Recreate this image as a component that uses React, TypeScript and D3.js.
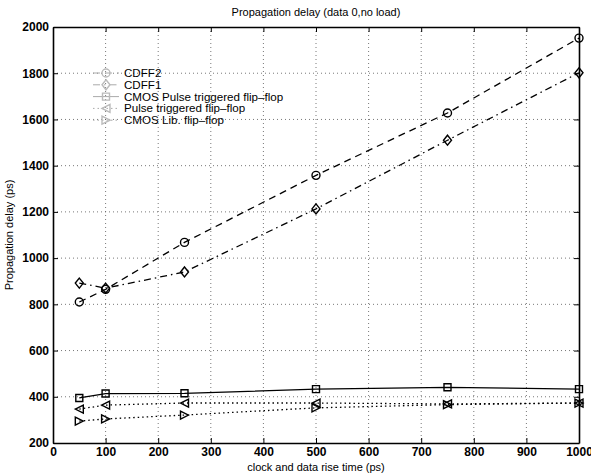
import React, { useEffect, useRef } from 'react';
import * as d3 from 'd3';

const riseTimes = [50, 100, 250, 500, 750, 1000];
const cdff2 = [810, 865, 1068, 1358, 1628, 1952];
const cdff1 = [892, 870, 940, 1213, 1510, 1802];
const cmosPulse = [395, 414, 415, 433, 441, 433];
const pulseTrig = [347, 364, 373, 373, 369, 373];
const cmosLib = [295, 304, 321, 352, 366, 373];

const xTicks = [0, 100, 200, 300, 400, 500, 600, 700, 800, 900, 1000];
const yTicks = [200, 400, 600, 800, 1000, 1200, 1400, 1600, 1800, 2000];

const seriesNames = [
  'CDFF2',
  'CDFF1',
  'CMOS Pulse triggered flip\u2013flop',
  'Pulse triggered flip\u2013flop',
  'CMOS Lib. flip\u2013flop',
];

const App = () => {
  const svgRef = useRef<SVGSVGElement>(null);

  useEffect(() => {
    const width = 591;
    const height = 474;
    const margin = { top: 27, right: 12, bottom: 31, left: 53 };
    const innerWidth = width - margin.left - margin.right;
    const innerHeight = height - margin.top - margin.bottom;
    const font = 'Liberation Sans, Arial, sans-serif';

    const svg = d3.select(svgRef.current);
    svg.selectAll('*').remove();
    svg.attr('width', width).attr('height', height);
    svg.append('rect').attr('width', width).attr('height', height).attr('fill', '#fff');

    const g = svg.append('g').attr('transform', `translate(${margin.left},${margin.top})`);

    const x = d3.scaleLinear().domain([0, 1000]).range([0, innerWidth]);
    const y = d3.scaleLinear().domain([200, 2000]).range([innerHeight, 0]);

    // grid
    g.selectAll('.gx')
      .data(xTicks.slice(1, -1))
      .enter()
      .append('line')
      .attr('x1', (d) => x(d))
      .attr('x2', (d) => x(d))
      .attr('y1', 0)
      .attr('y2', innerHeight)
      .attr('stroke', '#555')
      .attr('stroke-width', 0.8)
      .attr('stroke-dasharray', '1,3');
    g.selectAll('.gy')
      .data(yTicks.slice(1, -1))
      .enter()
      .append('line')
      .attr('x1', 0)
      .attr('x2', innerWidth)
      .attr('y1', (d) => y(d))
      .attr('y2', (d) => y(d))
      .attr('stroke', '#555')
      .attr('stroke-width', 0.8)
      .attr('stroke-dasharray', '1,3');

    const fmt = d3.format('d');

    // axes
    const xAxis = g
      .append('g')
      .attr('transform', `translate(0,${innerHeight})`)
      .call(d3.axisBottom(x).tickValues(xTicks).tickFormat(fmt as any).tickSizeInner(-5).tickSizeOuter(0).tickPadding(4));
    const yAxis = g
      .append('g')
      .call(d3.axisLeft(y).tickValues(yTicks).tickFormat(fmt as any).tickSizeInner(-5).tickSizeOuter(0).tickPadding(4));
    g.append('g')
      .call(d3.axisTop(x).tickValues(xTicks).tickSizeInner(-5).tickSizeOuter(0).tickFormat(() => ''));
    g.append('g')
      .attr('transform', `translate(${innerWidth},0)`)
      .call(d3.axisRight(y).tickValues(yTicks).tickSizeInner(-5).tickSizeOuter(0).tickFormat(() => ''));
    [xAxis, yAxis].forEach((a) =>
      a.selectAll('text').attr('font-family', font).attr('font-size', 12).attr('font-weight', 'bold').attr('fill', '#000')
    );
    g.selectAll('.domain').attr('stroke', '#000').attr('stroke-width', 1.6);
    g.selectAll('.tick line').attr('stroke', '#000');

    const line = d3
      .line<number>()
      .x((_, i) => x(riseTimes[i]))
      .y((d) => y(d));

    const series = [
      { values: cdff2, dash: '7,5', marker: 'circle' },
      { values: cdff1, dash: '7,4,1.5,4', marker: 'diamond' },
      { values: cmosPulse, dash: null, marker: 'square' },
      { values: pulseTrig, dash: '1.5,3', marker: 'left' },
      { values: cmosLib, dash: '1.5,3', marker: 'right' },
    ];

    const drawMarker = (sel: any, kind: string, cx: number, cy: number, stroke = '#000') => {
      const s = 4;
      let p = '';
      if (kind === 'circle') {
        sel.append('circle').attr('cx', cx).attr('cy', cy).attr('r', s).attr('fill', 'none').attr('stroke', stroke).attr('stroke-width', 1.4);
        return;
      }
      if (kind === 'diamond') p = `M${cx},${cy - s - 1}L${cx + s},${cy}L${cx},${cy + s + 1}L${cx - s},${cy}Z`;
      if (kind === 'square') p = `M${cx - 3.5},${cy - 3.5}h7v7h-7Z`;
      if (kind === 'left') p = `M${cx - s},${cy}L${cx + s},${cy - s}L${cx + s},${cy + s}Z`;
      if (kind === 'right') p = `M${cx + s},${cy}L${cx - s},${cy - s}L${cx - s},${cy + s}Z`;
      sel.append('path').attr('d', p).attr('fill', 'none').attr('stroke', stroke).attr('stroke-width', 1.4);
    };

    series.forEach((s) => {
      g.append('path')
        .attr('d', line(s.values))
        .attr('fill', 'none')
        .attr('stroke', '#000')
        .attr('stroke-width', 1.3)
        .attr('stroke-dasharray', s.dash ?? null);
      s.values.forEach((v, i) => drawMarker(g, s.marker, x(riseTimes[i]), y(v)));
    });

    // legend
    const lg = svg.append('g').attr('transform', 'translate(93,73)');
    seriesNames.forEach((name, i) => {
      const yy = i * 11.8;
      lg.append('line')
        .attr('x1', 0)
        .attr('x2', 26)
        .attr('y1', yy)
        .attr('y2', yy)
        .attr('stroke', '#aaa')
        .attr('stroke-width', 1)
        .attr('stroke-dasharray', series[i].dash ?? null);
      drawMarker(lg, series[i].marker, 13, yy, '#bbb');
      lg.append('text')
        .attr('x', 31)
        .attr('y', yy + 4)
        .attr('font-family', font)
        .attr('font-size', 11.6)
        .attr('fill', '#000')
        .text(name);
    });

    svg.append('text')
      .attr('x', margin.left + innerWidth / 2)
      .attr('y', 16)
      .attr('text-anchor', 'middle')
      .attr('font-family', font)
      .attr('font-size', 11)
      .text('Propagation delay (data 0,no load)');

    svg.append('text')
      .attr('x', margin.left + innerWidth / 2)
      .attr('y', 471)
      .attr('text-anchor', 'middle')
      .attr('font-family', font)
      .attr('font-size', 11)
      .text('clock and data rise time (ps)');

    svg.append('text')
      .attr('transform', `translate(13,${margin.top + innerHeight / 2}) rotate(-90)`)
      .attr('text-anchor', 'middle')
      .attr('font-family', font)
      .attr('font-size', 11)
      .text('Propagation delay (ps)');
  }, []);

  return (
    <div style={{ position: 'absolute', left: 0, top: 0 }}>
      <svg ref={svgRef}></svg>
    </div>
  );
};

export default App;
